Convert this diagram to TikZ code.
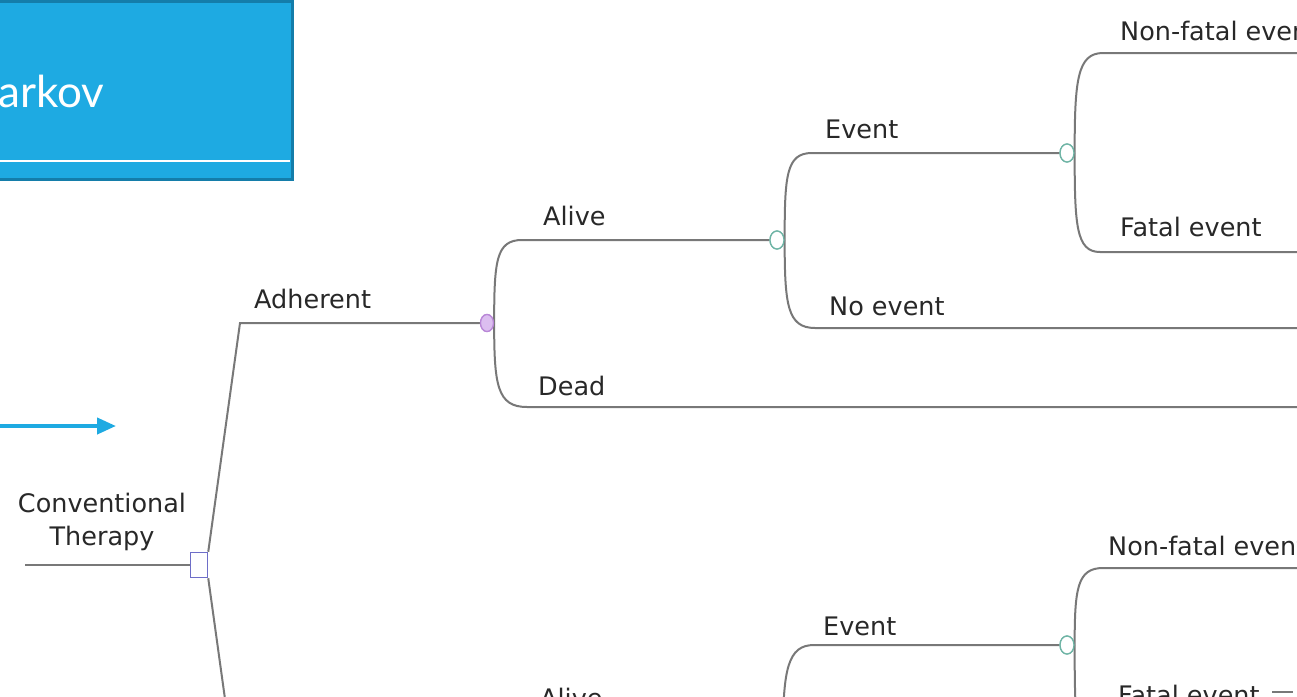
\documentclass[tikz,border=0pt]{standalone}
\usepackage{fontspec}
\setmainfont{DejaVu Sans}
\newfontfamily\titlefont{Lato}
\usetikzlibrary{arrows.meta,shapes.geometric}
\definecolor{bluefill}{RGB}{30,170,226}
\definecolor{blueedge}{RGB}{20,125,170}
\definecolor{linegray}{RGB}{120,120,120}
\definecolor{txtgray}{RGB}{40,40,40}
\definecolor{decedge}{RGB}{110,110,200}
\definecolor{chpurple}{RGB}{185,135,215}
\definecolor{chpurplefill}{RGB}{220,190,240}
\definecolor{chteal}{RGB}{110,180,165}
\tikzset{
  branch/.style={draw=linegray, line width=2pt},
  lbl/.style={anchor=base west, inner sep=0pt, text=txtgray, font=\fontsize{25.5}{30}\selectfont},
  decnode/.style={draw=decedge, fill=white, line width=1.5pt, minimum width=17pt, minimum height=25pt, inner sep=0pt},
  chancep/.style={ellipse, draw=chpurple, fill=chpurplefill, line width=1.3pt, minimum width=13pt, minimum height=17pt, inner sep=0pt},
  chancet/.style={ellipse, draw=chteal, fill=white, line width=1.3pt, minimum width=14pt, minimum height=18pt, inner sep=0pt},
}
\begin{document}
\begin{tikzpicture}[x=1pt,y=-1pt]
\useasboundingbox (0,0) rectangle (1297,696);
\clip (0,0) rectangle (1297,696);
\fill[white] (0,0) rectangle (1297,696);

% title box
\fill[bluefill] (-10,-10) rectangle (292,179);
\draw[blueedge, line width=3pt] (-10,1) -- (292,1) -- (292,179) -- (-10,179);
\draw[white, line width=1.2pt] (-10,161) -- (290,161);
\node[anchor=base west, inner sep=0pt, text=white, font=\titlefont\fontsize{44}{50}\selectfont] (title) at (-2,107) {arkov};

% blue arrow
\coordinate (arrS) at (-5,426);
\coordinate (arrE) at (116,426);
\draw[bluefill, line width=4pt, -{Triangle[length=19pt,width=16pt]}] (arrS) -- (arrE);

% nodes
\coordinate (root) at (25,565);
\node[decnode] (dec) at (199,565) {};
\coordinate (adhK) at (240,323);
\coordinate (lowK) at (240,807);
\node[chancep] (c1) at (487,323) {};
\coordinate (aliveS) at (522,240);
\coordinate (deadS) at (527,407);
\coordinate (deadE) at (1310,407);
\node[chancet] (c2) at (777,240) {};
\coordinate (eventS) at (812,153);
\coordinate (noevS) at (815,328);
\coordinate (noevE) at (1310,328);
\node[chancet] (c3) at (1067,153) {};
\coordinate (nfS) at (1103,53);
\coordinate (nfE) at (1310,53);
\coordinate (fS) at (1100,252);
\coordinate (fE) at (1310,252);
% lower part
\node[chancet] (c4) at (1067,645) {};
\coordinate (nf2S) at (1103,568);
\coordinate (nf2E) at (1310,568);
\coordinate (f2S) at (1100,760);
\coordinate (event2S) at (814,645);
\coordinate (alive2C) at (783,735);
\coordinate (dashS) at (1272,692);
\coordinate (dashE) at (1293,692);

% connectors
\draw[branch] (root) -- (dec.west);
\draw[branch] (dec.north east) -- (adhK) -- (c1.west);
\draw[branch] (dec.south east) -- (lowK);
\draw[branch] (c1.east) .. controls +(0,-62) and +(-26,0) .. (aliveS) -- (c2.west);
\draw[branch] (c1.east) .. controls +(0,62) and +(-30,0) .. (deadS) -- (deadE);
\draw[branch] (c2.east) .. controls +(0,-64) and +(-26,0) .. (eventS) -- (c3.west);
\draw[branch] (c2.east) .. controls +(0,64) and +(-28,0) .. (noevS) -- (noevE);
\draw[branch] (c3.east) .. controls +(0,-72) and +(-26,0) .. (nfS) -- (nfE);
\draw[branch] (c3.east) .. controls +(0,72) and +(-24,0) .. (fS) -- (fE);
\draw[branch] (c4.east) .. controls +(0,-56) and +(-26,0) .. (nf2S) -- (nf2E);
\draw[branch] (c4.east) .. controls +(0,80) and +(-24,0) .. (f2S);
\draw[branch] (alive2C) .. controls +(0,-66) and +(-26,0) .. (event2S) -- (c4.west);
\draw[branch, line width=1.2pt] (dashS) -- (dashE);

% redraw nodes on top
\node[decnode] at (dec) {};
\node[chancep] at (c1) {};
\node[chancet] at (c2) {};
\node[chancet] at (c3) {};
\node[chancet] at (c4) {};

% labels
\node[lbl, anchor=base] (lconv) at (102,512) {Conventional};
\node[lbl, anchor=base] (lther) at (102,545) {Therapy};
\node[lbl] (ladh) at (254,308) {Adherent};
\node[lbl] (lalive) at (543,225) {Alive};
\node[lbl] (ldead) at (538,395) {Dead};
\node[lbl] (levent) at (825,138) {Event};
\node[lbl] (lnoev) at (829,315) {No event};
\node[lbl] (lnf) at (1120,40) {Non-fatal event};
\node[lbl] (lfatal) at (1120,236) {Fatal event};
\node[lbl] (lnf2) at (1108,555) {Non-fatal event};
\node[lbl] (levent2) at (823,635) {Event};
\node[lbl] (lalive2) at (540,707) {Alive};
\node[lbl] (lfatal2) at (1118,704) {Fatal event};
\end{tikzpicture}
\end{document}
